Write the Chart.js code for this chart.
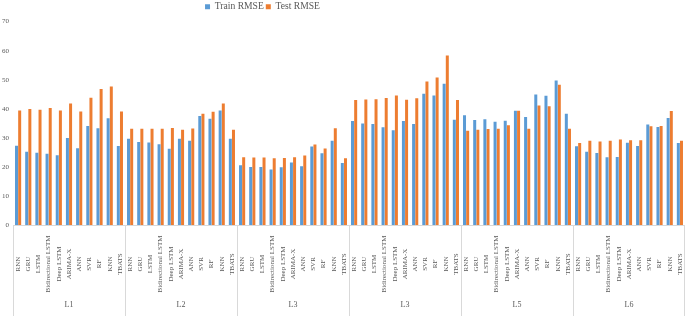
<!DOCTYPE html>
<html>
<head>
<meta charset="utf-8">
<script src="https://cdn.jsdelivr.net/npm/chart.js@4/dist/chart.umd.min.js"></script>
<style>
  html, body { margin: 0; padding: 0; background: #ffffff; }
  #wrap { width: 685px; height: 316px; position: relative; }
</style>
</head>
<body>
<div id="wrap"><canvas id="c"></canvas></div>
<script>
const models = ['RNN','GRU','LSTM','Bidirectional LSTM','Deep LSTM','ARIMA-X','ANN','SVR','RF','KNN','TBATS'];
const groups = ['L1','L2','L3','L3','L5','L6'];
const yTicks = [0,10,20,30,40,50,60,70];

const trainL1 = [27.3,25.2,24.9,24.5,24.0,29.9,26.4,34.1,33.3,36.7,27.2];
const testL1  = [39.4,39.9,39.7,40.3,39.4,41.8,39.1,43.8,46.8,47.7,39.1];
const trainL2 = [29.7,28.6,28.4,27.8,26.2,29.7,29.0,37.5,36.6,39.4,29.7];
const testL2  = [33.1,33.1,33.1,33.1,33.4,32.8,33.2,38.3,39.0,41.8,32.8];
const trainL3 = [20.6,20.0,20.0,19.1,19.9,21.5,20.2,27.0,24.7,29.0,21.3];
const testL3  = [23.3,23.2,23.2,23.0,23.1,23.3,23.9,27.7,26.3,33.3,23.0];
const trainL4 = [35.8,34.9,34.8,33.6,32.6,35.8,34.8,45.2,44.6,48.6,36.2];
const testL4  = [43.0,43.2,43.3,43.7,44.6,43.1,43.6,49.4,50.8,58.3,43.0];
const trainL5 = [37.8,36.1,36.4,35.5,35.9,39.3,37.2,44.9,44.5,49.7,38.3];
const testL5  = [32.4,32.8,33.0,33.1,34.3,39.3,33.1,41.1,40.9,48.3,33.1];
const trainL6 = [27.1,25.2,24.8,23.3,23.4,28.3,27.2,34.6,33.7,36.8,28.2];
const testL6  = [28.2,29.0,28.7,29.0,29.4,29.2,29.2,34.0,34.1,39.2,29.0];

const trainAll = [].concat(trainL1, trainL2, trainL3, trainL4, trainL5, trainL6);
const testAll  = [].concat(testL1, testL2, testL3, testL4, testL5, testL6);
const labels = [];
groups.forEach(g => models.forEach(m => labels.push(m)));

const SERIF = "'Liberation Serif', 'Times New Roman', serif";
const TEXT = '#595959';
const LINE = '#D9D9D9';

const groupAxisPlugin = {
  id: 'groupAxis',
  afterLayout(chart) {
    const lg = chart.legend;
    if (lg) { lg.left -= 79; lg.right -= 79; }
  },
  afterDraw(chart) {
    const ctx = chart.ctx;
    const xs = chart.scales.x;
    const area = chart.chartArea;
    const n = labels.length;
    const step = xs.width / n;
    const per = models.length;
    ctx.save();
    ctx.strokeStyle = LINE;
    ctx.lineWidth = 1;
    ctx.beginPath();
    ctx.moveTo(area.left, Math.round(area.bottom) + 0.5);
    ctx.lineTo(area.right, Math.round(area.bottom) + 0.5);
    ctx.stroke();
    for (let g = 0; g <= groups.length; g++) {
      let x = xs.getPixelForValue(Math.min(g * per, n - 1)) + (g * per >= n ? step / 2 : -step / 2);
      x = Math.round(x) + 0.5;
      if (x > chart.width) x = chart.width - 0.5;
      ctx.beginPath();
      ctx.moveTo(x, area.bottom);
      ctx.lineTo(x, chart.height);
      ctx.stroke();
    }
    ctx.fillStyle = TEXT;
    ctx.font = "7px " + SERIF;
    ctx.textAlign = 'center';
    ctx.textBaseline = 'middle';
    for (let i = 0; i < n; i++) {
      const x = xs.getPixelForValue(i);
      ctx.save();
      ctx.translate(x, area.bottom + 39);
      ctx.rotate(-Math.PI / 2);
      ctx.fillText(labels[i], 0, 0);
      ctx.restore();
    }
    ctx.font = "8px " + SERIF;
    for (let g = 0; g < groups.length; g++) {
      const x0 = xs.getPixelForValue(g * per) - step / 2;
      const x1 = xs.getPixelForValue(g * per + per - 1) + step / 2;
      ctx.fillText(groups[g], (x0 + x1) / 2, area.bottom + 80);
    }
    ctx.restore();
  }
};

new Chart(document.getElementById('c'), {
  type: 'bar',
  data: {
    labels: labels,
    datasets: [
      { label: 'Train RMSE', data: trainAll, backgroundColor: '#5B9BD5', borderWidth: 0,
        categoryPercentage: 0.62, barPercentage: 0.95 },
      { label: 'Test RMSE', data: testAll, backgroundColor: '#ED7D31', borderWidth: 0,
        categoryPercentage: 0.62, barPercentage: 0.95 }
    ]
  },
  options: {
    responsive: true,
    maintainAspectRatio: false,
    animation: false,
    devicePixelRatio: 1,
    layout: { padding: { left: -2, right: 0, top: 0, bottom: 91 } },
    plugins: {
      legend: {
        position: 'top',
        align: 'center',
        labels: {
          boxWidth: 5, boxHeight: 5, padding: 2,
          color: TEXT,
          font: { family: SERIF, size: 9.6 }
        }
      },
      tooltip: { enabled: false }
    },
    scales: {
      x: {
        ticks: { display: false },
        grid: { display: false },
        border: { display: false },
        afterFit(scale) { scale.height = 0; }
      },
      y: {
        min: 0, max: 70,
        ticks: { stepSize: 10, color: TEXT, font: { family: SERIF, size: 7 }, padding: 4 },
        grid: { display: false, drawTicks: false },
        border: { display: false }
      }
    }
  },
  plugins: [groupAxisPlugin]
});
</script>
</body>
</html>
